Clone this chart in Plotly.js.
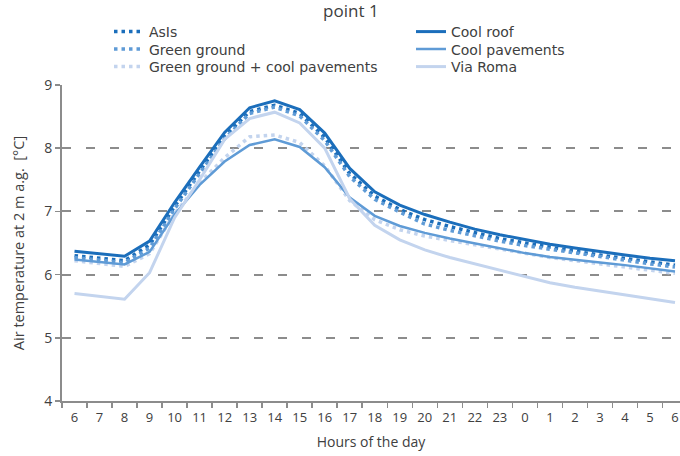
<!DOCTYPE html>
<html>
<head>
<meta charset="utf-8">
<script src="https://cdn.plot.ly/plotly-3.0.1.min.js"></script>
<style>html,body{margin:0;padding:0;background:#fff;}#chart{width:680px;height:456px;}</style>
</head>
<body>
<div id="chart"></div>
<script>
// Hours of the day (tick labels), from 6 to 6 next day
const hourLabels = ["6","7","8","9","10","11","12","13","14","15","16","17","18","19","20","21","22","23","0","1","2","3","4","5","6"];

const asIs = [6.30, 6.26, 6.22, 6.47, 7.08, 7.64, 8.19, 8.58, 8.68, 8.55, 8.17, 7.60, 7.24, 7.03, 6.87, 6.76, 6.66, 6.57, 6.50, 6.43, 6.37, 6.31, 6.26, 6.20, 6.15];
const coolRoof = [6.37, 6.33, 6.29, 6.53, 7.14, 7.70, 8.25, 8.64, 8.75, 8.61, 8.24, 7.68, 7.31, 7.10, 6.95, 6.83, 6.72, 6.63, 6.55, 6.48, 6.42, 6.36, 6.31, 6.26, 6.22];
const greenGround = [6.27, 6.23, 6.19, 6.42, 7.04, 7.60, 8.15, 8.55, 8.65, 8.51, 8.12, 7.55, 7.19, 6.99, 6.80, 6.70, 6.61, 6.53, 6.46, 6.40, 6.34, 6.28, 6.23, 6.17, 6.12];
const coolPavements = [6.24, 6.20, 6.16, 6.36, 6.95, 7.42, 7.79, 8.05, 8.14, 8.02, 7.70, 7.22, 6.93, 6.77, 6.66, 6.57, 6.49, 6.42, 6.34, 6.28, 6.23, 6.19, 6.15, 6.10, 6.05];
const greenCoolPav = [6.22, 6.18, 6.13, 6.33, 6.97, 7.45, 7.85, 8.18, 8.21, 8.09, 7.72, 7.17, 6.87, 6.71, 6.61, 6.54, 6.47, 6.41, 6.33, 6.27, 6.22, 6.17, 6.12, 6.07, 6.02];
const viaRoma = [5.70, 5.65, 5.61, 6.03, 6.90, 7.50, 8.14, 8.47, 8.57, 8.40, 8.00, 7.20, 6.78, 6.55, 6.39, 6.27, 6.17, 6.07, 5.96, 5.87, 5.80, 5.74, 5.68, 5.62, 5.56];

const xIdx = hourLabels.map((_, i) => i);

const dark = '#1b6ebb', mid = '#5f9bd6', light = '#c3d4ee';
const dotDash = '3.5px,4px';

const traces = [
  {name: 'AsIs', y: asIs, line: {color: dark, width: 3.5, dash: dotDash}, legend: 'legend'},
  {name: 'Green ground', y: greenGround, line: {color: mid, width: 3.5, dash: dotDash}, legend: 'legend2'},
  {name: 'Green ground + cool pavements', y: greenCoolPav, line: {color: light, width: 3.5, dash: dotDash}, legend: 'legend3'},
  {name: 'Cool roof', y: coolRoof, line: {color: dark, width: 3}, legend: 'legend4'},
  {name: 'Cool pavements', y: coolPavements, line: {color: mid, width: 2.5}, legend: 'legend5'},
  {name: 'Via Roma', y: viaRoma, line: {color: light, width: 3}, legend: 'legend6'}
].map(t => Object.assign({type: 'scatter', mode: 'lines', x: xIdx, hoverinfo: 'skip'}, t));

const fontFam = 'Open Sans, DejaVu Sans, sans-serif';
const legFam = 'DejaVu Sans, sans-serif';
const txt = '#404040';

const mL = 62, plotW = 618;
function leg(px, rowCenter) {
  return {
    orientation: 'v', xref: 'paper', yref: 'container',
    x: (px - mL) / plotW, y: 1 - (rowCenter - 16) / 456,
    xanchor: 'left', yanchor: 'top',
    bgcolor: 'rgba(0,0,0,0)', borderwidth: 0,
    font: {family: legFam, size: 14, color: txt},
    itemwidth: 30, tracegroupgap: 0
  };
}
const rows = [32, 49.5, 67];
const colL = 109, colR = 411;

const layout = {
  width: 680, height: 456,
  margin: {l: mL, r: 0, t: 85, b: 55},
  paper_bgcolor: '#fff', plot_bgcolor: '#fff',
  font: {family: fontFam, color: txt, size: 13},
  title: {text: 'point 1', x: 0.516, xref: 'container', xanchor: 'center', y: 0.988, yref: 'container', yanchor: 'top', font: {family: fontFam, size: 17, color: txt}},
  showlegend: true,
  legend: leg(colL, rows[0]),
  legend2: leg(colL, rows[1]),
  legend3: leg(colL, rows[2]),
  legend4: leg(colR, rows[0]),
  legend5: leg(colR, rows[1]),
  legend6: leg(colR, rows[2]),
  xaxis: {
    type: 'linear',
    range: [-0.5, 24.2],
    tickmode: 'array', tickvals: xIdx, ticktext: hourLabels,
    showgrid: false, zeroline: false,
    showline: true, linecolor: '#8c8c8c', linewidth: 2,
    ticks: '', ticklabelstandoff: 3, tickfont: {family: fontFam, size: 13, color: txt},
    minor: {tickmode: 'array', tickvals: xIdx.map(i => i - 0.5), ticks: 'outside', ticklen: 5, tickcolor: '#8c8c8c', tickwidth: 1.5, showgrid: false},
    title: {text: 'Hours of the day', font: {family: fontFam, size: 14, color: txt}, standoff: 13},
    fixedrange: true
  },
  yaxis: {
    range: [4, 9], dtick: 1, tick0: 4,
    showgrid: true, gridcolor: '#8c8c8c', gridwidth: 2, griddash: '9px,15px',
    zeroline: false,
    showline: true, linecolor: '#8c8c8c', linewidth: 2,
    ticks: 'outside', ticklen: 5, tickcolor: '#8c8c8c', tickwidth: 1.5,
    tickfont: {family: fontFam, size: 14, color: txt},
    title: {text: 'Air temperature at 2 m a.g.  [°C]', font: {family: fontFam, size: 14.5, color: txt}, standoff: 16},
    fixedrange: true
  }
};

Plotly.newPlot('chart', traces, layout, {displayModeBar: false, staticPlot: true});
</script>
</body>
</html>
